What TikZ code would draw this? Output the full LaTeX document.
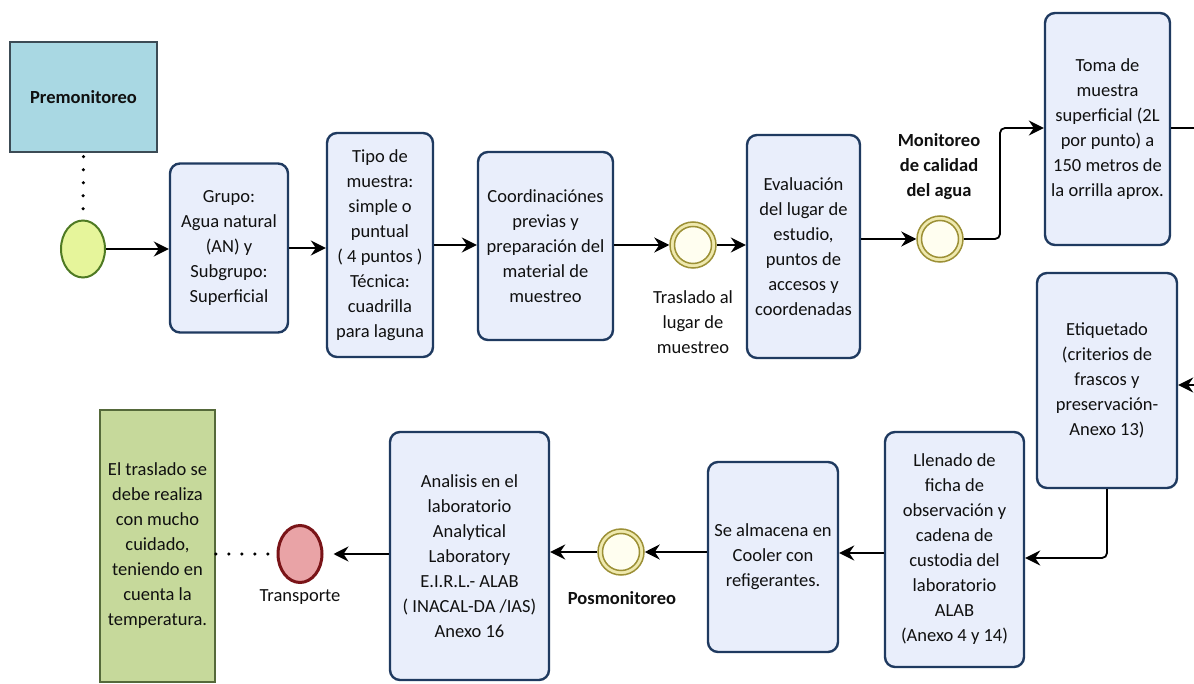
\documentclass[tikz,border=0pt]{standalone}
\usepackage{fontspec}
\setmainfont{Carlito}
\usetikzlibrary{arrows.meta,shapes.geometric}

\definecolor{navy}{HTML}{1F3A60}
\definecolor{taskfill}{HTML}{E9EEFB}
\definecolor{premfill}{HTML}{A9D8E3}
\definecolor{premline}{HTML}{3C4B55}
\definecolor{notefill}{HTML}{C6D99B}
\definecolor{noteline}{HTML}{55693A}
\definecolor{startfill}{HTML}{E6F59B}
\definecolor{startline}{HTML}{4E7A23}
\definecolor{midline}{HTML}{9C9036}
\definecolor{midring}{HTML}{EFE9AE}
\definecolor{midfill}{HTML}{FFFEF0}
\definecolor{endfill}{HTML}{E9A3A6}
\definecolor{endline}{HTML}{7A1418}
\definecolor{ink}{HTML}{101010}

\tikzset{
  txt/.style={font=\fontsize{18.5}{25}\selectfont, text=ink, align=center},
  task/.style={txt, draw=navy, fill=taskfill, line width=2.4pt,
               rounded corners=10pt, inner sep=0pt},
  plainbox/.style={txt, inner sep=0pt, line width=1.5pt},
  startev/.style={ellipse, draw=startline, fill=startfill, line width=2pt,
                  minimum width=44pt, minimum height=57pt, inner sep=0pt},
  endev/.style={ellipse, draw=endline, fill=endfill, line width=3pt,
                minimum width=44pt, minimum height=57pt, inner sep=0pt},
  midev/.style={circle, draw=midline, fill=midring, line width=1.5pt,
                minimum size=46pt, inner sep=0pt},
  midinner/.style={circle, draw=midline, fill=midfill, line width=1.5pt,
                   minimum size=37pt, inner sep=0pt},
  flow/.style={draw=black, line width=1.8pt,
               -{Stealth[length=15pt,width=15pt,inset=5pt]}},
  assoc/.style={draw=black, line width=3.5pt, line cap=round,
                dash pattern=on 0pt off 13pt},
}

\begin{document}
\begin{tikzpicture}[x=1pt,y=-1pt]
\useasboundingbox (0,0) rectangle (1194,684);
\fill[white] (0,0) rectangle (1194,684);

% --- upper row -------------------------------------------------------
\node[plainbox, draw=premline, fill=premfill, minimum width=147pt,
      minimum height=110pt, font=\fontsize{18.5}{25}\selectfont\bfseries]
      (premon) at (83.5,97) {Premonitoreo};

\node[startev] (start) at (83,249) {};

\node[task, minimum width=118pt, minimum height=169pt] (grupo) at (229,248)
  {Grupo:\\Agua natural\\(AN) y\\Subgrupo:\\Superficial};

\node[task, minimum width=106pt, minimum height=224pt] (tipo) at (380,245)
  {Tipo de\\muestra:\\simple o\\puntual\\( 4 puntos )\\Técnica:\\cuadrilla\\para laguna};

\node[task, minimum width=135pt, minimum height=188pt] (coord) at (545.5,246)
  {Coordinaciónes\\previas y\\preparación del\\material de\\muestreo};

\node[midev] (traslado) at (693,245) {};
\node[midinner] (trasladoin) at (traslado) {};
\node[txt] (trasladolbl) at (693,322) {Traslado al\\lugar de\\muestreo};

\node[task, minimum width=113pt, minimum height=223pt] (evalua) at (803.5,246.5)
  {Evaluación\\del lugar de\\estudio,\\puntos de\\accesos y\\coordenadas};

\node[midev] (monit) at (940,239) {};
\node[midinner] (monitin) at (monit) {};
\node[txt, font=\fontsize{18.5}{25}\selectfont\bfseries] (monitlbl) at (939,167)
  {Monitoreo\\de calidad\\del agua};

\node[task, minimum width=125pt, minimum height=232pt] (toma) at (1107.5,129)
  {Toma de\\muestra\\superficial (2L\\por punto) a\\150 metros de\\la orrilla aprox.};

% --- right column and lower row ---------------------------------------
\node[task, minimum width=140pt, minimum height=215pt] (etiq) at (1107,380.5)
  {Etiquetado\\(criterios de\\frascos y\\preservación-\\Anexo 13)};

\node[task, minimum width=139pt, minimum height=235pt] (llenado) at (954.5,549.5)
  {Llenado de\\ficha de\\observación y\\cadena de\\custodia del\\laboratorio\\ALAB\\(Anexo 4 y 14)};

\node[task, minimum width=130pt, minimum height=190pt] (almacena) at (773,557)
  {Se almacena en\\Cooler con\\refigerantes.};

\node[midev] (posmon) at (621,552) {};
\node[midinner] (posmonin) at (posmon) {};
\node[txt, font=\fontsize{18.5}{25}\selectfont\bfseries] (posmonlbl) at (622,598)
  {Posmonitoreo};

\node[task, minimum width=159pt, minimum height=248pt] (analisis) at (469.5,556)
  {Analisis en el\\laboratorio\\Analytical\\Laboratory\\E.I.R.L.- ALAB\\( INACAL-DA /IAS)\\Anexo 16};

\node[endev] (transp) at (300,554) {};
\node[txt] (transplbl) at (300,597) {Transporte};

\node[plainbox, draw=noteline, fill=notefill, minimum width=115pt,
      minimum height=272pt] (nota) at (157.5,546)
  {El traslado se\\debe realiza\\con mucho\\cuidado,\\teniendo en\\cuenta la\\temperatura.};

% --- connectors -------------------------------------------------------
\draw[assoc] ([yshift=-4pt]premon.south) -- (start.north);
\draw[flow] (start.east) -- (grupo.west |- start.east);
\draw[flow] (grupo.east) -- (tipo.west |- grupo.east);
\draw[flow] (tipo.east) -- (coord.west |- tipo.east);
\draw[flow] (coord.east |- traslado.west) -- (traslado.west);
\draw[flow] (traslado.east) -- (evalua.west |- traslado.east);
\draw[flow] (evalua.east |- monit.west) -- (monit.west);
\draw[flow, rounded corners=5pt] (monit.east) -| (1000,128) -- (toma.west |- 0,128);
\draw[flow, rounded corners=5pt] (toma.east |- 0,128) -- (1206,128) |- (etiq.east |- 0,385);
\draw[flow, rounded corners=5pt] (etiq.south) |- (llenado.east |- 0,558);
\draw[flow] (llenado.west |- 0,553) -- (almacena.east |- 0,553);
\draw[flow] (almacena.west |- posmon.east) -- (posmon.east);
\draw[flow] (posmon.west) -- (analisis.east |- posmon.west);
\draw[flow] (analisis.west |- transp.east) -- ([xshift=10pt]transp.east);
\draw[assoc] (nota.east |- transp.west) -- (transp.west);
\end{tikzpicture}
\end{document}
